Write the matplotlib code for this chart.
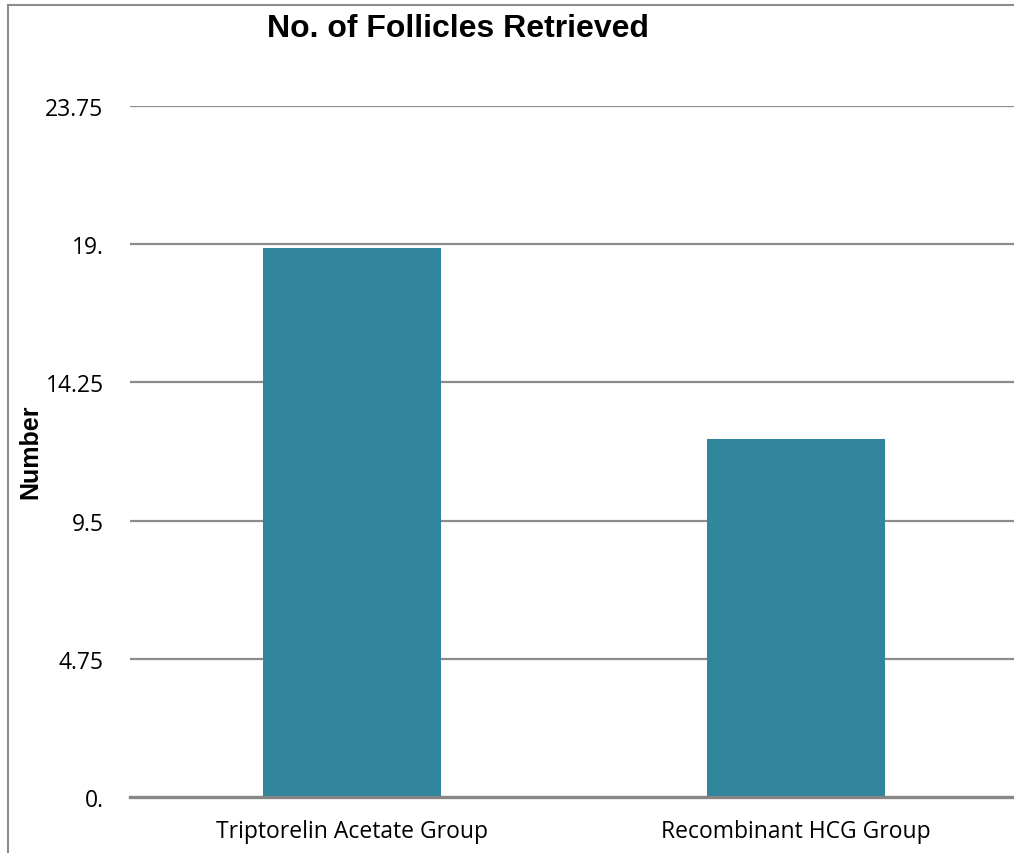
import matplotlib.pyplot as plt
from matplotlib.patches import Rectangle

# --- data ---
groups = ["Triptorelin Acetate Group", "Recombinant HCG Group"]
follicles = [18.86, 12.32]
tick_vals = [0, 4.75, 9.5, 14.25, 19, 23.75]
tick_text = ["0.", "4.75", "9.5", "14.25", "19.", "23.75"]

W, H = 1014, 854
fig = plt.figure(figsize=(W / 100, H / 100), dpi=100)

# outer chart frame
fig.patches.append(Rectangle((8 / W, -0.1), 1.2, (H - 6) / H + 0.1,
                             transform=fig.transFigure, fill=False,
                             edgecolor="#8c8c8c", lw=1.5))

ax = fig.add_axes([130 / W, 56 / H, 888 / W, (798 - 107) / H])

x = range(len(groups))
ax.bar(x, follicles, width=0.4, color="#31859c", zorder=3)

ax.set_xlim(-0.5, 1.5)
ax.set_ylim(0, 23.75)
ax.set_yticks(tick_vals)
ax.set_yticklabels(tick_text)
ax.set_xticks(list(x))
ax.set_xticklabels(groups)

for v in tick_vals[1:]:
    ax.axhline(v, color="#8c8c8c", lw=1.6, zorder=1)
ax.axhline(0, color="#868686", lw=2.4, zorder=4, clip_on=False)

for s in ax.spines.values():
    s.set_visible(False)
ax.tick_params(axis="both", length=0, labelsize=16.5)
ax.tick_params(axis="y", pad=19)
ax.tick_params(axis="x", pad=16)
for lab in ax.get_xticklabels() + ax.get_yticklabels():
    lab.set_fontfamily("Open Sans")

fig.text(458 / W, 1 - 29 / H, "No. of Follicles Retrieved", ha="center", va="center",
         fontsize=23, fontweight="bold", family="Liberation Sans")
fig.text(30 / W, 1 - 452 / H, "Number", ha="center", va="center", rotation=90,
         fontsize=18, fontweight="bold", family="Liberation Sans")

fig.savefig("out.png", dpi=100)
